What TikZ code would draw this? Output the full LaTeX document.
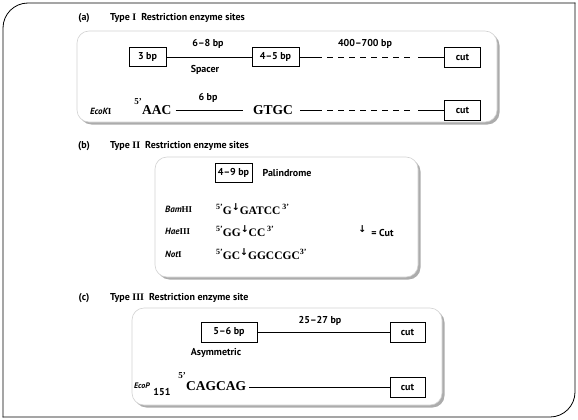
\documentclass[tikz,border=0pt]{standalone}
\usepackage{fontspec}
\setmainfont{PT Sans}
\newfontfamily\seqf{Liberation Serif}
\newfontfamily\dvf{DejaVu Sans}
\usetikzlibrary{shadows}
\newcommand\pfive{\raisebox{5pt}{\seqf\bfseries\fontsize{8}{8}\selectfont 5’}}
\newcommand\pthree{\raisebox{5pt}{\seqf\bfseries\fontsize{8}{8}\selectfont 3’}}
\newcommand\cutarr{\raisebox{3.5pt}{\dvf\bfseries\fontsize{9.5}{9}\selectfont ↓}}
\begin{document}
\begin{tikzpicture}[x=1pt,y=-1pt,
  every node/.style={font=\bfseries\fontsize{10}{12}\selectfont, inner sep=0pt},
  bpbox/.style={draw, line width=0.7pt, minimum height=19pt, inner xsep=3pt, fill=white},
  panel/.style={draw=gray!35, line width=0.6pt, fill=white, rounded corners=12pt,
     drop shadow={shadow xshift=2.5pt, shadow yshift=-2.5pt, fill=gray!65, opacity=1}},
  seq/.style={font=\seqf\bfseries\fontsize{13.5}{15}\selectfont},
  seqb/.style={font=\seqf\bfseries\fontsize{11.5}{12}\selectfont},
  enz/.style={font=\bfseries\itshape\fontsize{9}{10}\selectfont},
  prime/.style={font=\seqf\bfseries\fontsize{9}{10}\selectfont},
  dna/.style={line width=0.9pt},
  gap/.style={line width=0.9pt, dash pattern=on 6pt off 5pt}
]
\useasboundingbox (0,0) rectangle (578,420);
% outer frame
\draw[line width=0.8pt, rounded corners=25pt, line cap=rect] (3,417) -- (3,3) -- (575,3);
\draw[line width=0.8pt, rounded corners=25pt, line cap=rect] (575,3) -- (575,417) -- (3,417);

% panels
\node[panel, minimum width=420pt, minimum height=91pt] (pa) at (287,76.5) {};
\node[panel, minimum width=263pt, minimum height=120pt] (pb) at (286.5,217) {};
\node[panel, minimum width=310pt, minimum height=97pt] (pc) at (287,356.5) {};

% headings
\node (ta) at (84,18) {(a)};
\node[anchor=west] (ha) at (110,18) {Type {\seqf I}\ \ Restriction enzyme sites};
\node (tb) at (84,146) {(b)};
\node[anchor=west] (hb) at (110,146) {Type {\seqf II}\ \ Restriction enzyme sites};
\node (tc) at (84,298) {(c)};
\node[anchor=west] (hc) at (110,298) {Type {\seqf III}\ \ Restriction enzyme site};

% ---------- (a) row 1
\node[bpbox, minimum width=37pt] (b3) at (147.5,57) {3 bp};
\node[bpbox, minimum width=47pt] (b45) at (275.5,57) {4–5 bp};
\node[bpbox, minimum width=36pt, minimum height=20pt] (cutA1) at (462.5,57) {cut};
\coordinate (a1) at (322,57); \coordinate (a2) at (327,57);
\coordinate (a3) at (410,57); \coordinate (a4) at (418,57);
\draw[dna] (b3) -- (b45);
\draw[dna] (b45) -- (a1);
\draw[gap] (a2) -- (a3);
\draw[dna] (a4) -- (cutA1);
\node (l68) at (208,44) {6–8 bp};
\node (spacer) at (205,70) {Spacer};
\node (l400) at (365,44) {400–700 bp};

% ---------- (a) row 2
\node[enz, anchor=west] (ecok) at (90,111) {EcoK{\upshape\seqf I}};
\node[prime] (p5a) at (138,102) {5’};
\node[seq, anchor=west] (aac) at (142,110) {AAC};
\node[seq] (gtgc) at (273,110) {GTGC};
\node (l6) at (208,98) {6 bp};
\node[bpbox, minimum width=36pt, minimum height=20pt] (cutA2) at (462.5,110) {cut};
\coordinate (e1) at (322,110); \coordinate (e2) at (327,110);
\coordinate (e3) at (410,110); \coordinate (e4) at (418,110);
\draw[dna] ([xshift=4pt]aac.east) -- ([xshift=-10pt]gtgc.west);
\draw[dna] ([xshift=7pt]gtgc.east) -- (e1);
\draw[gap] (e2) -- (e3);
\draw[dna] (e4) -- (cutA2);

% ---------- (b)
\node[bpbox, minimum width=37pt] (b49) at (233.5,173) {4–9 bp};
\node (pal) at (287,173) {Palindrome};
\node[enz, anchor=west] (bam) at (165,209) {Bam{\upshape\seqf HI}};
\node[enz, anchor=west] (hae) at (165,231) {Hae{\upshape\seqf III}};
\node[enz, anchor=west] (not) at (165,254) {Not{\upshape\seqf I}};
\node[seqb, anchor=west] (sbam) at (216,209) {\pfive G\cutarr GATCC\,\pthree};
\node[seqb, anchor=west] (shae) at (216,231) {\pfive GG\cutarr CC\,\pthree};
\node[seqb, anchor=west] (snot) at (216,254) {\pfive GC\cutarr GGCCGC\pthree};
\node (cutkey) at (376,231) {\cutarr\ \ = Cut};

% ---------- (c)
\node[bpbox, minimum width=56pt, minimum height=20pt] (b56) at (229,332) {5–6 bp};
\node[bpbox, minimum width=35pt, minimum height=20pt] (cutC1) at (407.5,332) {cut};
\draw[dna] (b56) -- (cutC1);
\node (l25) at (320,321) {25–27 bp};
\node (asym) at (216,353) {Asymmetric};
\node[enz, font=\bfseries\itshape\fontsize{8}{9}\selectfont, anchor=west] (ecop) at (134,386) {EcoP};
\node (n151) at (162,392) {151};
\node[prime] (p5c) at (182,376) {5’};
\node[seq, anchor=west] (cag) at (186,386) {CAGCAG};
\node[bpbox, minimum width=35pt, minimum height=20pt] (cutC2) at (407.5,387) {cut};
\draw[dna] ([xshift=3pt]cag.east |- cutC2) -- (cutC2);
\end{tikzpicture}
\end{document}
